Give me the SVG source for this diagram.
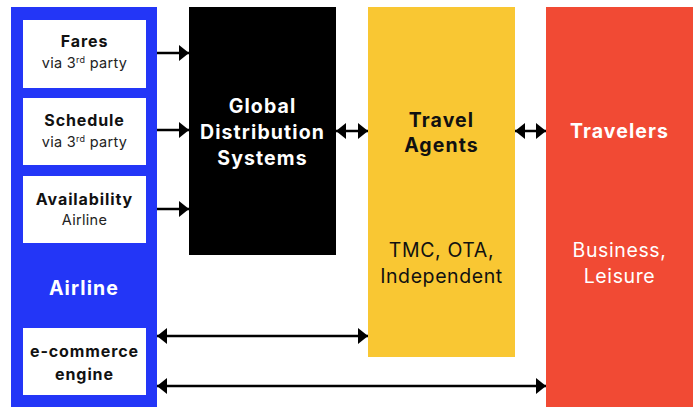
<svg xmlns="http://www.w3.org/2000/svg" width="697" height="407" viewBox="0 0 697 407">
<style>
text{font-family:Inter,"Liberation Sans",sans-serif;text-anchor:middle}
.h{font-weight:bold;font-size:16px;letter-spacing:0.9px;fill:#111}
.s{font-size:14.5px;letter-spacing:0.3px;fill:#222}
.w{fill:#fff}
.big{font-weight:bold;font-size:19.5px;letter-spacing:1.1px}
.reg{font-size:19.5px;letter-spacing:0.6px}
.ln{stroke:#000;stroke-width:2.5;fill:none}
</style>
<defs>
<marker id="ah" markerUnits="userSpaceOnUse" markerWidth="11" markerHeight="18" refX="10" refY="8" orient="auto-start-reverse" viewBox="0 0 11 18">
<path d="M0,0 L10,8 L0,16 z" fill="#000"/>
</marker>
</defs>
<rect width="697" height="407" fill="#fff"/>
<g id="airline">
<rect x="11" y="7" width="146" height="400" fill="#2336F7"/>
<text class="big w" x="84" y="295">Airline</text>
</g>
<g id="fares">
<rect x="23" y="20" width="123" height="68" fill="#fff"/>
<text class="h" x="84.5" y="47">Fares</text>
<text class="s" x="84.5" y="68">via 3<tspan font-size="9" dy="-5">rd</tspan><tspan dy="5"> party</tspan></text>
</g>
<g id="schedule">
<rect x="23" y="98" width="123" height="67" fill="#fff"/>
<text class="h" x="84.5" y="126">Schedule</text>
<text class="s" x="84.5" y="147">via 3<tspan font-size="9" dy="-5">rd</tspan><tspan dy="5"> party</tspan></text>
</g>
<g id="availability">
<rect x="23" y="176" width="123" height="67" fill="#fff"/>
<text class="h" x="84.5" y="205">Availability</text>
<text class="s" x="84.5" y="225">Airline</text>
</g>
<g id="ecommerce">
<rect x="23" y="328" width="123" height="67" fill="#fff"/>
<text class="h" x="84.5" y="357">e-commerce</text>
<text class="h" x="84.5" y="380">engine</text>
</g>
<g id="gds">
<rect x="189" y="7" width="147" height="248" fill="#000"/>
<text class="big w" x="262.5" y="113">Global</text>
<text class="big w" x="262.5" y="139">Distribution</text>
<text class="big w" x="262.5" y="165">Systems</text>
</g>
<g id="agents">
<rect x="368" y="7" width="147" height="350" fill="#F9C733"/>
<text class="big" x="441.5" y="127" fill="#111">Travel</text>
<text class="big" x="441.5" y="152" fill="#111">Agents</text>
<text class="reg" x="441.5" y="257" fill="#111">TMC, OTA,</text>
<text class="reg" x="441.5" y="283" fill="#111">Independent</text>
</g>
<g id="travelers">
<rect x="546" y="7" width="147" height="400" fill="#F14A34"/>
<text class="big w" x="619.5" y="138">Travelers</text>
<text class="reg w" x="619.5" y="257">Business,</text>
<text class="reg w" x="619.5" y="283">Leisure</text>
</g>
<g id="connectors">
<line class="ln" x1="157" y1="53" x2="189" y2="53" marker-end="url(#ah)"/>
<line class="ln" x1="157" y1="130" x2="189" y2="130" marker-end="url(#ah)"/>
<line class="ln" x1="157" y1="209" x2="189" y2="209" marker-end="url(#ah)"/>
<line class="ln" x1="336" y1="131" x2="368" y2="131" marker-start="url(#ah)" marker-end="url(#ah)"/>
<line class="ln" x1="515" y1="131" x2="546" y2="131" marker-start="url(#ah)" marker-end="url(#ah)"/>
<line class="ln" x1="157" y1="336" x2="368" y2="336" marker-start="url(#ah)" marker-end="url(#ah)"/>
<line class="ln" x1="157" y1="386" x2="546" y2="386" marker-start="url(#ah)" marker-end="url(#ah)"/>
</g>
</svg>
